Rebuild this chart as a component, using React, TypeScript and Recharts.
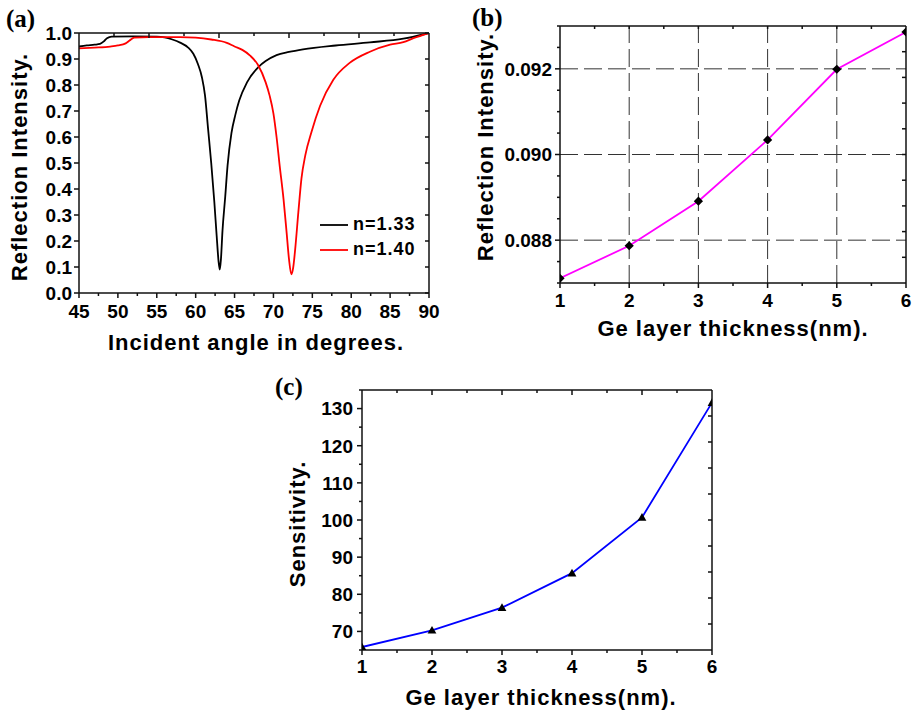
import React from 'react';
import { LineChart, Line, XAxis, YAxis, Legend, Label, ReferenceLine } from 'recharts';

// ---------- data ----------
const anglesN133 = [45, 46, 47, 47.7, 48.2, 48.6, 49.2, 52, 55, 56, 57, 58, 59, 59.7, 60.3, 60.8, 61.2, 61.6, 62, 62.4, 62.7, 62.95, 63.1, 63.25, 63.45, 63.8, 64.1, 64.6, 65.1, 65.6, 66.6, 68.1, 69, 70.4, 72, 73.8, 78, 82.4, 86.7, 90];
const reflN133 = [0.948, 0.952, 0.955, 0.958, 0.968, 0.98, 0.986, 0.987, 0.986, 0.983, 0.975, 0.963, 0.945, 0.92, 0.88, 0.83, 0.76, 0.63, 0.5, 0.35, 0.22, 0.12, 0.09, 0.13, 0.24, 0.37, 0.49, 0.615, 0.685, 0.74, 0.81, 0.87, 0.892, 0.915, 0.927, 0.937, 0.952, 0.964, 0.978, 1.0];
const anglesN140 = [45, 47, 49, 50, 51, 51.5, 52.1, 54, 58, 60, 62, 64, 65, 66, 67, 68, 69, 69.5, 70, 70.4, 70.8, 71.3, 71.7, 72, 72.3, 72.55, 72.8, 73.2, 73.6, 74.1, 74.9, 76, 77.7, 79.8, 82.4, 85, 86.7, 88, 90];
const reflN140 = [0.941, 0.944, 0.948, 0.952, 0.96, 0.971, 0.982, 0.984, 0.984, 0.982, 0.975, 0.962, 0.948, 0.935, 0.913, 0.878, 0.81, 0.76, 0.69, 0.6, 0.49, 0.36, 0.23, 0.13, 0.072, 0.1, 0.17, 0.31, 0.44, 0.53, 0.62, 0.72, 0.82, 0.885, 0.928, 0.955, 0.965, 0.98, 1.0];
const seriesNames = ['n=1.33', 'n=1.40'];

const thickness = [1, 2, 3, 4, 5, 6];
const reflThickness = [0.08711, 0.08787, 0.08891, 0.09034, 0.09199, 0.09286];
const sensitivity = [65.8, 70.3, 76.4, 85.7, 100.7, 131.6];

// tick values
const aXTicks = [45, 47.5, 50, 52.5, 55, 57.5, 60, 62.5, 65, 67.5, 70, 72.5, 75, 77.5, 80, 82.5, 85, 87.5, 90];
const aXMajors = [45, 50, 55, 60, 65, 70, 75, 80, 85, 90];
const aTopTicks = [49.5, 54, 58.5, 63, 67.5, 72, 76.5, 81, 85.5];
const aTopMajors = [54, 63, 72, 81];
const aYTicks = [0, 0.1, 0.2, 0.3, 0.4, 0.5, 0.6, 0.7, 0.8, 0.9, 1.0];

const tXTicks = [1, 1.5, 2, 2.5, 3, 3.5, 4, 4.5, 5, 5.5, 6];
const tXMajors = [1, 2, 3, 4, 5, 6];
const tTopTicks = [1.5, 2, 2.5, 3, 3.5, 4, 4.5, 5, 5.5];

const bYTicks = [0.087, 0.0875, 0.088, 0.0885, 0.089, 0.0895, 0.09, 0.0905, 0.091, 0.0915, 0.092, 0.0925, 0.093];
const bYMajors = [0.088, 0.09, 0.092];
const bRightTicks = [0.0876, 0.0882, 0.0888, 0.0894, 0.09, 0.0906, 0.0912, 0.0918, 0.0924];
const bGridX = [2, 3, 4, 5];

const cYTicks = [65, 70, 75, 80, 85, 90, 95, 100, 105, 110, 115, 120, 125, 130, 135];
const cYMajors = [70, 80, 90, 100, 110, 120, 130];
const cRightTicks = [72, 79, 86, 93, 100, 107, 114, 121, 128];

const dataN133 = anglesN133.map((x, i) => ({ x, y: reflN133[i] }));
const dataN140 = anglesN140.map((x, i) => ({ x, y: reflN140[i] }));
const dataB = thickness.map((x, i) => ({ x, y: reflThickness[i] }));
const dataC = thickness.map((x, i) => ({ x, y: sensitivity[i] }));

// ---------- styling helpers ----------
const FONT = "'Liberation Sans', Arial, Helvetica, sans-serif";
const AX = '#111';
const TICK_FS = 19;
const LW = 1.8;

type TickCfg = {
  side: 'bottom' | 'left' | 'top' | 'right';
  majors: number[];
  majorLen: number;
  minorLen: number;
  gap?: number;
  fmt?: (v: number) => string;
};

const isIn = (arr: number[], v: number) => arr.some((m) => Math.abs(m - v) < 1e-9);

function makeTick(cfg: TickCfg) {
  return (props: any) => {
    const { x, y, payload } = props;
    const v = payload.value as number;
    const major = isIn(cfg.majors, v);
    const len = major ? cfg.majorLen : cfg.minorLen;
    let x2 = x, y2 = y;
    let label: React.ReactNode = null;
    if (cfg.side === 'bottom') {
      y2 = y + len;
      if (major && cfg.fmt) {
        label = (
          <text x={x} y={y + (cfg.gap || 0)} textAnchor="middle" fontFamily={FONT} fontWeight="bold" fontSize={TICK_FS} fill="#000">
            {cfg.fmt(v)}
          </text>
        );
      }
    } else if (cfg.side === 'left') {
      x2 = x - len;
      if (major && cfg.fmt) {
        label = (
          <text x={x - (cfg.gap || 0)} y={y} dy="0.36em" textAnchor="end" fontFamily={FONT} fontWeight="bold" fontSize={TICK_FS} fill="#000">
            {cfg.fmt(v)}
          </text>
        );
      }
    } else if (cfg.side === 'top') {
      y2 = y + len;
    } else {
      x2 = x - len;
    }
    return (
      <g>
        <path d={`M${x},${y}L${x2},${y2}`} stroke={AX} strokeWidth={1.5} fill="none" />
        {label}
      </g>
    );
  };
}

const yTitle = (text: string, bx: number, cy: number) => () => (
  <text
    x={bx}
    y={cy}
    transform={`rotate(-90 ${bx} ${cy})`}
    textAnchor="middle"
    fontFamily={FONT}
    fontWeight="bold"
    fontSize={22}
    letterSpacing={1}
    fill="#000"
  >
    {text}
  </text>
);

const xTitle = (text: string, cx: number, by: number) => () => (
  <text x={cx} y={by} textAnchor="middle" fontFamily={FONT} fontWeight="bold" fontSize={22} letterSpacing={1} fill="#000">
    {text}
  </text>
);

const Diamond = (props: any) => {
  const { cx, cy } = props;
  if (cx == null || cy == null) return null;
  const r = 4.6;
  return <polygon points={`${cx},${cy - r} ${cx + r},${cy} ${cx},${cy + r} ${cx - r},${cy}`} fill="#000" />;
};

const Triangle = (props: any) => {
  const { cx, cy } = props;
  if (cx == null || cy == null) return null;
  const r = 4.4;
  return <polygon points={`${cx},${cy - r} ${cx + r},${cy + r * 0.75} ${cx - r},${cy + r * 0.75}`} fill="#000" />;
};

const legendContent = (props: any) => {
  const payload = (props.payload || []).filter((p: any) => p.type !== 'none');
  return (
    <div>
      {payload.map((p: any) => (
        <div key={p.value} style={{ display: 'flex', alignItems: 'center', height: 25 }}>
          <svg width={28} height={4} style={{ display: 'block' }}>
            <line x1={0} y1={2} x2={28} y2={2} stroke={p.color} strokeWidth={LW} />
          </svg>
          <span style={{ marginLeft: 5, fontFamily: FONT, fontWeight: 'bold', fontSize: 18, letterSpacing: 1, color: '#000' }}>
            {p.value}
          </span>
        </div>
      ))}
    </div>
  );
};

const panelLetter = (text: string, left: number, top: number) => (
  <div
    style={{
      position: 'absolute',
      left,
      top,
      fontFamily: "'Liberation Serif', 'Times New Roman', serif",
      fontWeight: 'bold',
      fontSize: 25,
      lineHeight: 1,
      color: '#000',
    }}
  >
    {text}
  </div>
);

// axes closing the box (top + right). They are 1px thick (an axis of size 0 is not drawn),
// and an invisible copy of the series is attached to them so that they get a domain.
const frameAxes = (xDomain: number[], yDomain: number[], topTicks: number[], topMajors: number[], topMajorLen: number, rightTicks: number[], data: any[]) => [
  <XAxis
    key="fx"
    xAxisId="top"
    orientation="top"
    type="number"
    dataKey="x"
    domain={xDomain}
    allowDataOverflow
    ticks={topTicks}
    interval={0}
    height={1}
    tickSize={0}
    tickMargin={0}
    tickLine={false}
    axisLine={{ stroke: AX, strokeWidth: 1.5 }}
    tick={makeTick({ side: 'top', majors: topMajors, majorLen: topMajorLen, minorLen: 3 })}
  />,
  <YAxis
    key="fy"
    yAxisId="right"
    orientation="right"
    type="number"
    domain={yDomain}
    allowDataOverflow
    ticks={rightTicks}
    interval={0}
    width={1}
    tickSize={0}
    tickMargin={0}
    tickLine={false}
    axisLine={{ stroke: AX, strokeWidth: 1.5 }}
    tick={makeTick({ side: 'right', majors: [], majorLen: 4, minorLen: 4 })}
  />,
  <Line
    key="fl"
    xAxisId="top"
    yAxisId="right"
    data={data}
    dataKey="y"
    stroke="none"
    strokeWidth={0}
    dot={false}
    activeDot={false}
    legendType="none"
    isAnimationActive={false}
  />,
];

export default function App() {
  return (
    <div style={{ position: 'absolute', left: 0, top: 0, width: 916, height: 714, background: '#fff', overflow: 'hidden' }}>
      {/* (a) */}
      <div style={{ position: 'absolute', left: 0, top: 0 }}>
        <LineChart width={440} height={360} margin={{ top: 32, right: 10, bottom: 0, left: 0 }}>
          <XAxis
            xAxisId="main"
            type="number"
            dataKey="x"
            domain={[45, 90]}
            allowDataOverflow
            ticks={aXTicks}
            interval={0}
            height={67}
            tickSize={0}
            tickMargin={0}
            tickLine={false}
            axisLine={{ stroke: AX, strokeWidth: 1.5 }}
            tick={makeTick({ side: 'bottom', majors: aXMajors, majorLen: 5, minorLen: 3, gap: 25, fmt: (v) => String(v) })}
          >
            <Label content={xTitle('Incident angle in degrees.', 256, 350)} />
          </XAxis>
          <YAxis
            yAxisId="main"
            type="number"
            domain={[0, 1]}
            allowDataOverflow
            ticks={aYTicks}
            interval={0}
            width={79}
            tickSize={0}
            tickMargin={0}
            tickLine={false}
            axisLine={{ stroke: AX, strokeWidth: 1.5 }}
            tick={makeTick({ side: 'left', majors: aYTicks, majorLen: 5, minorLen: 3, gap: 7, fmt: (v) => v.toFixed(1) })}
          >
            <Label content={yTitle('Reflection Intensity.', 27, 167)} />
          </YAxis>
          {frameAxes([45, 90], [0, 1], aTopTicks, aTopMajors, 5, aYTicks, dataN133)}
          <Line
            xAxisId="main"
            yAxisId="main"
            data={dataN133}
            dataKey="y"
            name={seriesNames[0]}
            type="monotone"
            stroke="#000000"
            strokeWidth={LW}
            dot={false}
            isAnimationActive={false}
          />
          <Line
            xAxisId="main"
            yAxisId="main"
            data={dataN140}
            dataKey="y"
            name={seriesNames[1]}
            type="monotone"
            stroke="#ff0000"
            strokeWidth={LW}
            dot={false}
            isAnimationActive={false}
          />
          <Legend
            layout="vertical"
            align="center"
            verticalAlign="middle"
            content={legendContent}
            wrapperStyle={{ left: 320, top: 212, width: 120, height: 50 }}
          />
        </LineChart>
      </div>

      {/* (b) */}
      <div style={{ position: 'absolute', left: 460, top: 0 }}>
        <LineChart width={456} height={350} margin={{ top: 25, right: 9, bottom: 0, left: 0 }}>
          <XAxis
            xAxisId="main"
            type="number"
            dataKey="x"
            domain={[1, 6]}
            allowDataOverflow
            ticks={tXTicks}
            interval={0}
            height={67}
            tickSize={0}
            tickMargin={0}
            tickLine={false}
            axisLine={{ stroke: AX, strokeWidth: 1.5 }}
            tick={makeTick({ side: 'bottom', majors: tXMajors, majorLen: 5, minorLen: 3, gap: 24, fmt: (v) => String(v) })}
          >
            <Label content={xTitle('Ge layer thickness(nm).', 273, 336)} />
          </XAxis>
          <YAxis
            yAxisId="main"
            type="number"
            domain={[0.087, 0.093]}
            allowDataOverflow
            ticks={bYTicks}
            interval={0}
            width={100}
            tickSize={0}
            tickMargin={0}
            tickLine={false}
            axisLine={{ stroke: AX, strokeWidth: 1.5 }}
            tick={makeTick({ side: 'left', majors: bYMajors, majorLen: 5, minorLen: 3, gap: 8, fmt: (v) => v.toFixed(3) })}
          >
            <Label content={yTitle('Reflection Intensity.', 33, 147)} />
          </YAxis>
          {frameAxes([1, 6], [0.087, 0.093], tTopTicks, [], 3, bRightTicks, dataB)}
          {bGridX.map((g) => (
            <ReferenceLine key={'gx' + g} xAxisId="main" yAxisId="main" x={g} stroke="#333" strokeWidth={1} strokeDasharray="18 6" />
          ))}
          {bYMajors.map((g) => (
            <ReferenceLine key={'gy' + g} xAxisId="main" yAxisId="main" y={g} stroke="#333" strokeWidth={1} strokeDasharray="18 6" />
          ))}
          <Line
            xAxisId="main"
            yAxisId="main"
            data={dataB}
            dataKey="y"
            type="linear"
            stroke="#ff00ff"
            strokeWidth={LW}
            dot={<Diamond />}
            isAnimationActive={false}
          />
        </LineChart>
      </div>

      {/* (c) */}
      <div style={{ position: 'absolute', left: 270, top: 360 }}>
        <LineChart width={460} height={354} margin={{ top: 29, right: 17, bottom: 0, left: 0 }}>
          <XAxis
            xAxisId="main"
            type="number"
            dataKey="x"
            domain={[1, 6]}
            allowDataOverflow
            ticks={tXTicks}
            interval={0}
            height={64}
            tickSize={0}
            tickMargin={0}
            tickLine={false}
            axisLine={{ stroke: AX, strokeWidth: 1.5 }}
            tick={makeTick({ side: 'bottom', majors: tXMajors, majorLen: 5, minorLen: 3, gap: 23, fmt: (v) => String(v) })}
          >
            <Label content={xTitle('Ge layer thickness(nm).', 271, 345)} />
          </XAxis>
          <YAxis
            yAxisId="main"
            type="number"
            domain={[65, 135]}
            allowDataOverflow
            ticks={cYTicks}
            interval={0}
            width={92}
            tickSize={0}
            tickMargin={0}
            tickLine={false}
            axisLine={{ stroke: AX, strokeWidth: 1.5 }}
            tick={makeTick({ side: 'left', majors: cYMajors, majorLen: 5, minorLen: 3, gap: 9, fmt: (v) => String(v) })}
          >
            <Label content={yTitle('Sensitivity.', 35, 164)} />
          </YAxis>
          {frameAxes([1, 6], [65, 135], tTopTicks, tXMajors, 5, cRightTicks, dataC)}
          <Line
            xAxisId="main"
            yAxisId="main"
            data={dataC}
            dataKey="y"
            type="linear"
            stroke="#0000ff"
            strokeWidth={LW}
            dot={<Triangle />}
            isAnimationActive={false}
          />
        </LineChart>
      </div>

      {panelLetter('(a)', 6, 6)}
      {panelLetter('(b)', 472, 5)}
      {panelLetter('(c)', 275, 374)}
    </div>
  );
}
